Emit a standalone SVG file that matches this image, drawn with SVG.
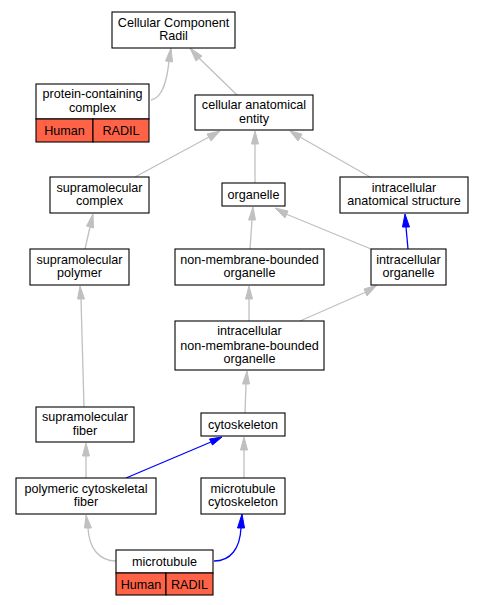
<svg xmlns="http://www.w3.org/2000/svg" width="484" height="605" viewBox="0 0 484 605">
<defs>
<style>
.n rect{fill:#fff;stroke:#000;stroke-width:1.1}
.n rect.r{fill:#ff6347}
text{font-family:"Liberation Sans",Arial,sans-serif;font-size:12.6px;fill:#000;text-anchor:middle}
.e{fill:none;stroke:#c0c0c0;stroke-width:1.3}
.b{fill:none;stroke:#0000ff;stroke-width:1.3}
.ga{fill:#c0c0c0;stroke:#c0c0c0}
.ba{fill:#0000ff;stroke:#0000ff}
</style>
</defs>
<rect width="484" height="605" fill="#fff"/>
<g id="edges">
<path class="e" d="M151,100 C163,98 167,80 169,61"/>
<polygon class="ga" points="165.5,61 171,48 172.5,62"/>
<path class="e" d="M237,95 L199,58"/>
<polygon class="ga" points="196,61 190,48 202,56"/>
<path class="e" d="M135,177 L209,137"/>
<polygon class="ga" points="207,134 220,131 211,141"/>
<path class="e" d="M255,183 L255,144"/>
<polygon class="ga" points="251.5,144 255,131 258.5,144"/>
<path class="e" d="M370,177 L300,137"/>
<polygon class="ga" points="298,141 290,131 302,134"/>
<path class="e" d="M250,249 L252,220"/>
<polygon class="ga" points="248.5,220 253,207 255.5,220"/>
<path class="e" d="M371,249 L286,214"/>
<polygon class="ga" points="285,218 275,208 288,211"/>
<path class="b" d="M408,249 L406,227"/>
<polygon class="ba" points="402.5,227 405,214 409.5,227"/>
<path class="e" d="M85,249 L90,227"/>
<polygon class="ga" points="86.5,226 93,214 93.5,228"/>
<path class="e" d="M249,321 L249,299"/>
<polygon class="ga" points="245.5,299 249,286 252.5,299"/>
<path class="e" d="M300,321 L366,292"/>
<polygon class="ga" points="364,289 377,285 367,296"/>
<path class="e" d="M84,407 L81,299"/>
<polygon class="ga" points="77.5,299 80,286 84.5,299"/>
<path class="e" d="M245,413 L246,384"/>
<polygon class="ga" points="242.5,384 247,371 249.5,384"/>
<path class="e" d="M86,478 L86,456"/>
<polygon class="ga" points="82.5,456 86,443 89.5,456"/>
<path class="b" d="M126,478 L211,442"/>
<polygon class="ba" points="209.5,439 222,437 212.5,445"/>
<path class="e" d="M244,478 L244,450"/>
<polygon class="ga" points="240.5,450 244,437 247.5,450"/>
<path class="e" d="M116,561 C99,561 89,548 88,528"/>
<polygon class="ga" points="84.5,528 86,515 91.5,528"/>
<path class="b" d="M214,561 C231,561 240,548 241,528"/>
<polygon class="ba" points="237.5,528 242,514 244.5,528"/>
</g>
<g id="node-ccr" class="n">
<rect x="112" y="12" width="123" height="36"/>
<text x="173.5" y="26.5">Cellular Component</text>
<text x="173.5" y="40">Radil</text>
</g>
<g id="node-pcc" class="n">
<rect x="36" y="84" width="113" height="35"/>
<rect class="r" x="36" y="119" width="57" height="23"/>
<rect class="r" x="93" y="119" width="56" height="23"/>
<text x="92.5" y="98">protein-containing</text>
<text x="92.5" y="111.5">complex</text>
<text x="64.5" y="135">Human</text>
<text x="121" y="135">RADIL</text>
</g>
<g id="node-cae" class="n">
<rect x="195" y="95" width="118" height="35"/>
<text x="254" y="109">cellular anatomical</text>
<text x="254" y="122.5">entity</text>
</g>
<g id="node-smc" class="n">
<rect x="50" y="177" width="99" height="36"/>
<text x="99.5" y="191.5">supramolecular</text>
<text x="99.5" y="205">complex</text>
</g>
<g id="node-org" class="n">
<rect x="222" y="183" width="63" height="23"/>
<text x="253.5" y="199">organelle</text>
</g>
<g id="node-ias" class="n">
<rect x="340" y="177" width="128" height="36"/>
<text x="404" y="191.5">intracellular</text>
<text x="404" y="205">anatomical structure</text>
</g>
<g id="node-smp" class="n">
<rect x="30" y="249" width="99" height="36"/>
<text x="79.5" y="263.5">supramolecular</text>
<text x="79.5" y="277">polymer</text>
</g>
<g id="node-nmbo" class="n">
<rect x="175" y="249" width="149" height="36"/>
<text x="249.5" y="263.5">non-membrane-bounded</text>
<text x="249.5" y="277">organelle</text>
</g>
<g id="node-io" class="n">
<rect x="371" y="249" width="75" height="36"/>
<text x="408.5" y="263.5">intracellular</text>
<text x="408.5" y="277">organelle</text>
</g>
<g id="node-inmbo" class="n">
<rect x="175" y="321" width="149" height="49"/>
<text x="249.5" y="335">intracellular</text>
<text x="249.5" y="349.5">non-membrane-bounded</text>
<text x="249.5" y="362.5">organelle</text>
</g>
<g id="node-smf" class="n">
<rect x="36" y="407" width="98" height="35"/>
<text x="85" y="421">supramolecular</text>
<text x="85" y="434.5">fiber</text>
</g>
<g id="node-cyto" class="n">
<rect x="201" y="413" width="84" height="23"/>
<text x="243" y="429">cytoskeleton</text>
</g>
<g id="node-pcf" class="n">
<rect x="16" y="478" width="140" height="36"/>
<text x="86" y="492.5">polymeric cytoskeletal</text>
<text x="86" y="506">fiber</text>
</g>
<g id="node-mtc" class="n">
<rect x="201" y="478" width="84" height="36"/>
<text x="243" y="492.5">microtubule</text>
<text x="243" y="506">cytoskeleton</text>
</g>
<g id="node-mt" class="n">
<rect x="116" y="550" width="97" height="23"/>
<rect class="r" x="116" y="573" width="50" height="22"/>
<rect class="r" x="166" y="573" width="47" height="22"/>
<text x="164.5" y="566">microtubule</text>
<text x="141" y="588.5">Human</text>
<text x="189.5" y="588.5">RADIL</text>
</g>
</svg>
